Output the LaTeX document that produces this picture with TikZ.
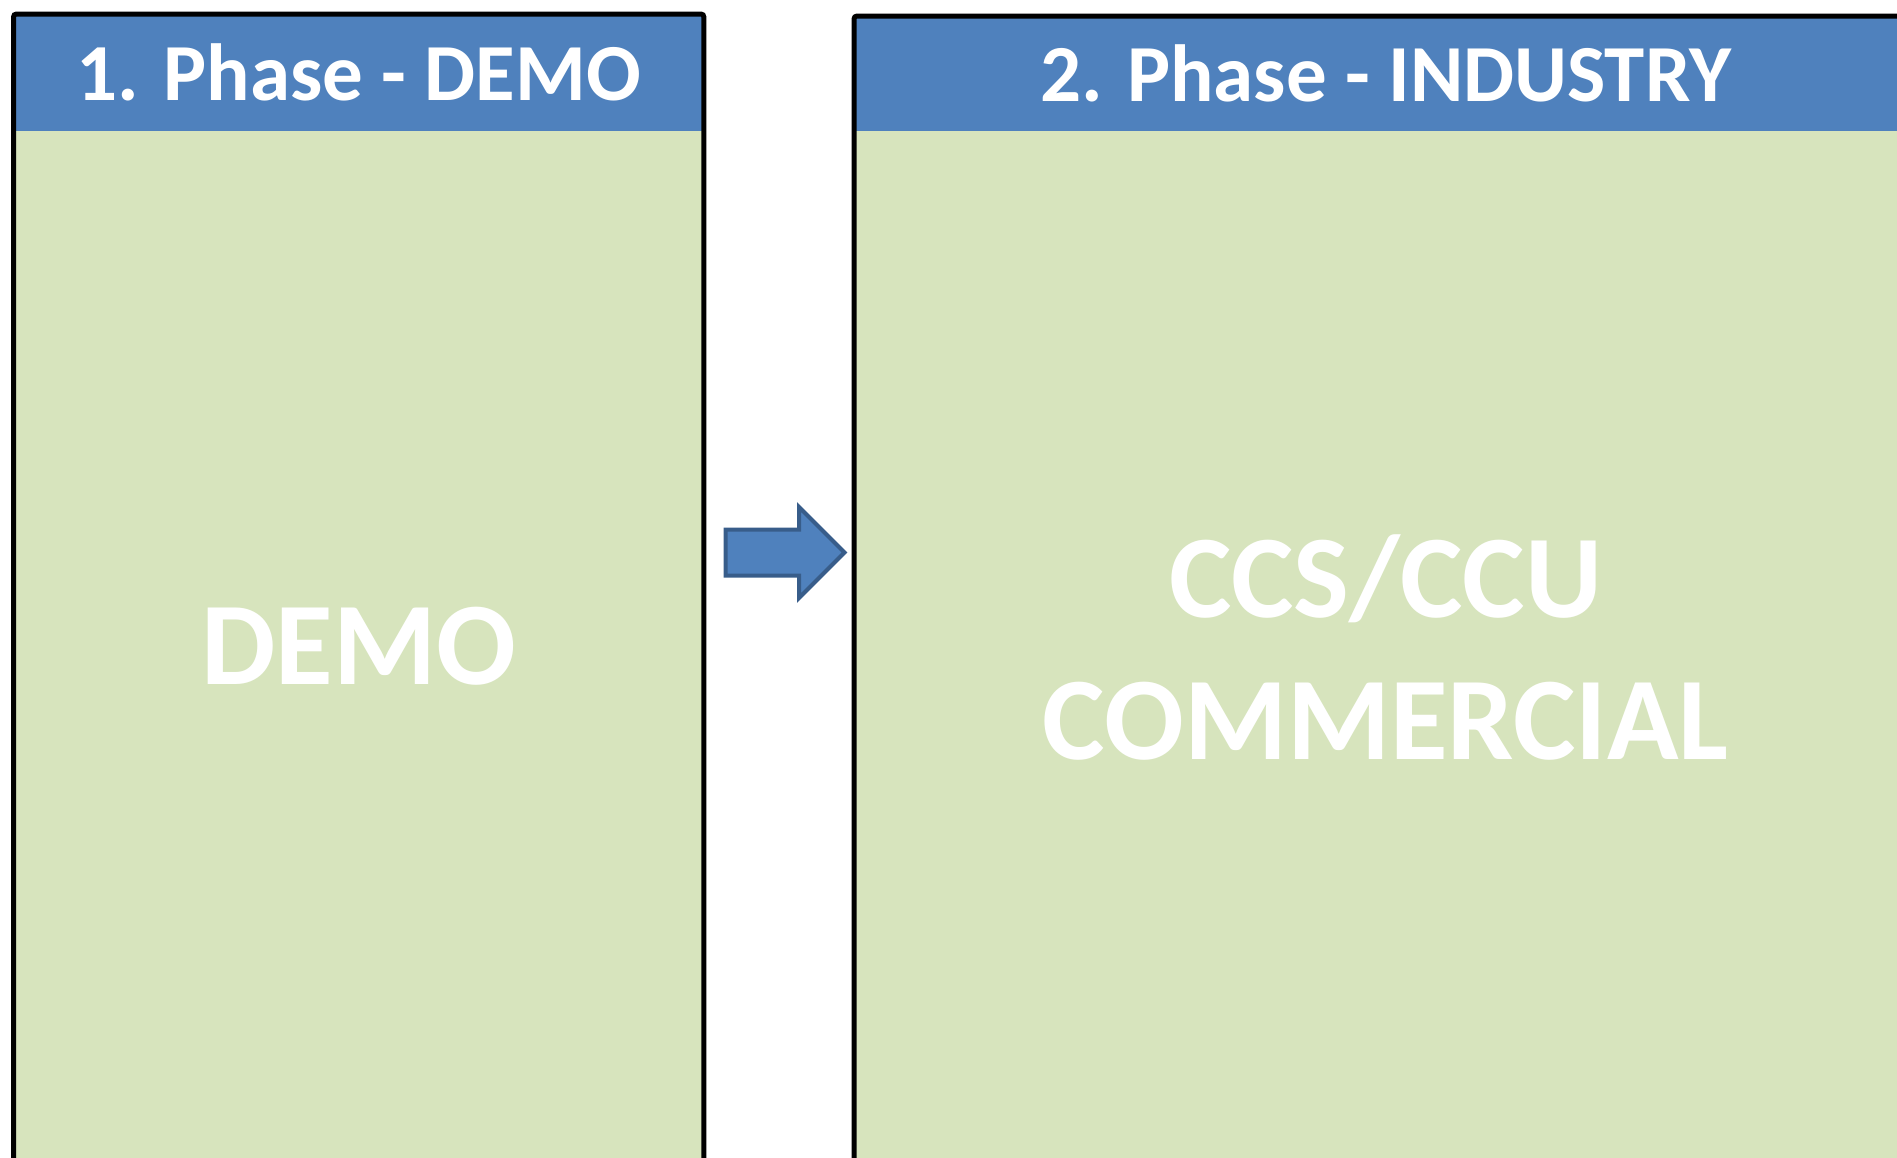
\documentclass[tikz,border=0pt]{standalone}
\usepackage{fontspec}
\setmainfont{Carlito}
\usepackage{xcolor}
\usetikzlibrary{
  positioning,
  shapes.arrows
}
\definecolor{phaseblue}{HTML}{4F81BD}
\definecolor{phasegreen}{HTML}{D7E4BD}
\definecolor{arrowline}{HTML}{385D8A}

\begin{document}
\begin{tikzpicture}[x=1pt, y=-1pt,
  every node/.style = {shape=rectangle, inner sep=0pt,
    text=white, font=\bfseries}]
    \tikzstyle{phasehead}=[fill=phaseblue, anchor=north west,
      font=\bfseries\fontsize{81}{90}\selectfont]
    \tikzstyle{phasebody}=[fill=phasegreen, anchor=north west, align=center,
      font=\bfseries\fontsize{118}{142}\selectfont]
    \tikzstyle{frame}=[draw=black, line width=5pt, rounded corners=3pt]
    \tikzstyle{phasearrow}=[shape=single arrow, fill=phaseblue,
      draw=arrowline, line width=4pt, inner xsep=0pt, inner ysep=21pt,
      minimum height=119, single arrow head extend=22.5]
  \useasboundingbox (0,0) rectangle (1897,1157);
  % phase 1
  \node[phasebody, minimum width=690, minimum height=1030] (demobody)
    at (13.5,131) {DEMO};
  \node[phasehead, minimum width=690, minimum height=117] (demohead)
    at (13.5,14) {1. Phase - DEMO};
  \draw[frame] (demobody.south west) -- (demohead.north west)
    -- (demohead.north east) -- (demobody.south east);
  % phase 2
  \node[phasebody, minimum width=1063, minimum height=1033] (indbody)
    at (854,131) {CCS/CCU\\COMMERCIAL};
  \node[phasehead, minimum width=1063, minimum height=115] (indhead)
    at (854,16) {2. Phase - INDUSTRY};
  \draw[frame] (indbody.south west) -- (indhead.north west)
    -- (indhead.north east);
  % arrow between the phases
  \node[phasearrow] (step12) at (773.5,552.5) {};
\end{tikzpicture}
\end{document}
